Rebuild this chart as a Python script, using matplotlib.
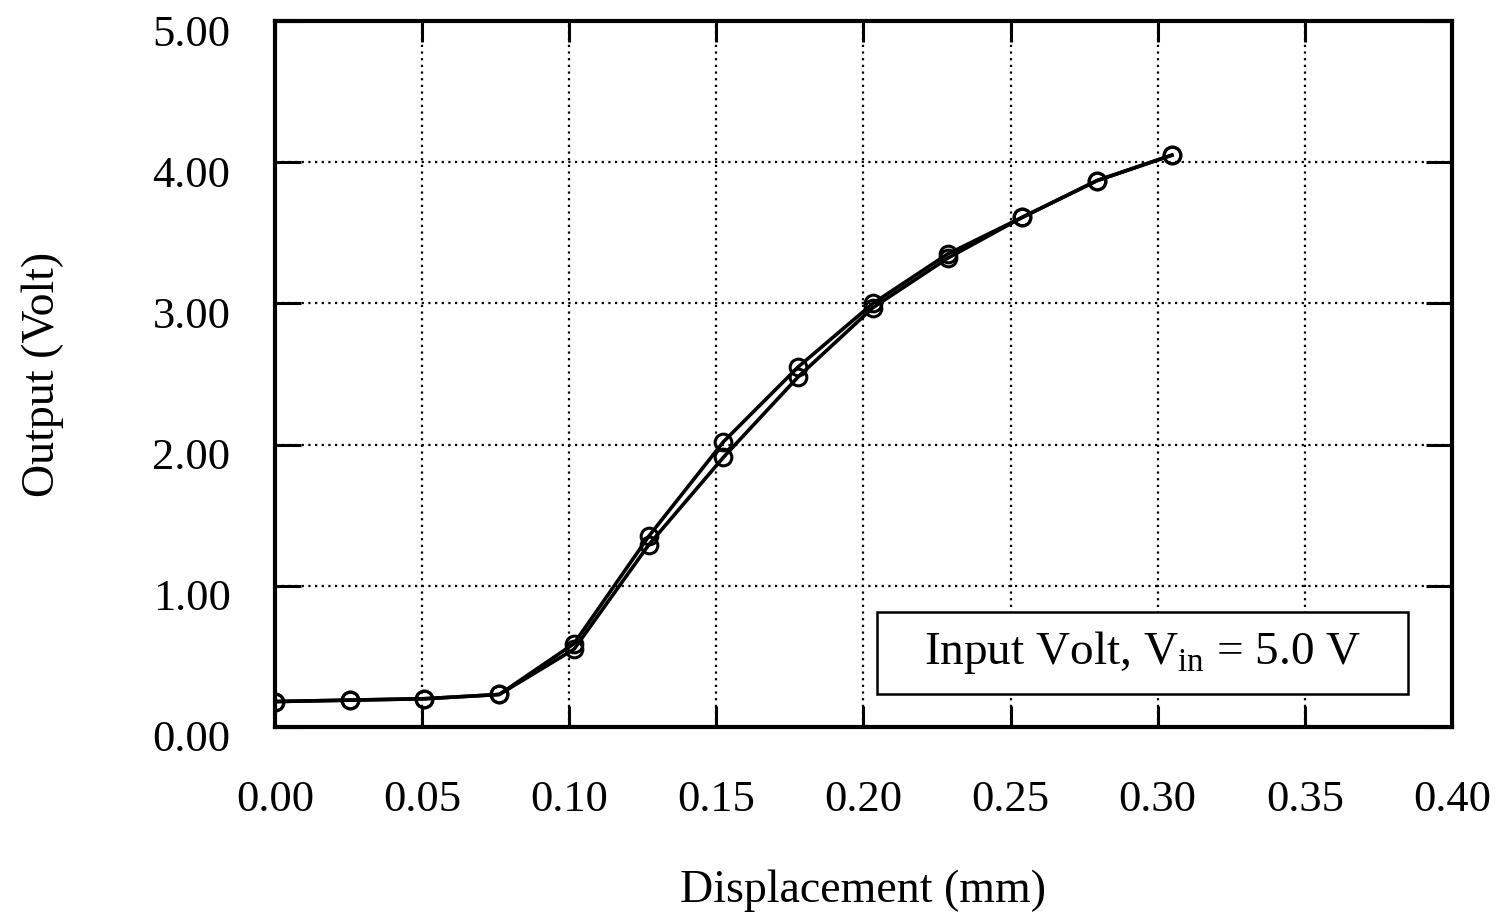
import numpy as np
import matplotlib.pyplot as plt
from matplotlib.patches import Rectangle
from matplotlib.transforms import ScaledTranslation

plt.rcParams['font.family'] = 'Liberation Serif'
plt.rcParams['mathtext.fontset'] = 'custom'
plt.rcParams['mathtext.rm'] = 'Liberation Serif'

# displacement in mm (steps of 0.001 inch)
desplazamiento = [0.0, 0.0254, 0.0508, 0.0762, 0.1016, 0.1270, 0.1524,
                  0.1778, 0.2032, 0.2286, 0.2540, 0.2794, 0.3048]
# output volts, two runs
salida_1 = [0.18, 0.19, 0.20, 0.23, 0.59, 1.35, 2.02, 2.55, 3.00, 3.35, 3.61, 3.87, 4.05]
salida_2 = [0.18, 0.19, 0.20, 0.23, 0.55, 1.29, 1.91, 2.48, 2.97, 3.32, 3.61, 3.87, 4.05]

xticks = [0.00, 0.05, 0.10, 0.15, 0.20, 0.25, 0.30, 0.35, 0.40]
yticks = [0.00, 1.00, 2.00, 3.00, 4.00, 5.00]

fig = plt.figure(figsize=(15.02, 9.18), dpi=100)
ax = fig.add_axes([0.1831, 0.2081, 0.7836, 0.7690])

for s in (salida_1, salida_2):
    ax.plot(desplazamiento, s, color='black', linewidth=2.6, marker='o',
            markersize=12, markerfacecolor='none', markeredgewidth=2.2, zorder=3)

ax.set_xlim(0, 0.40)
ax.set_ylim(0, 5.0)
ax.set_xticks(xticks)
ax.set_yticks(yticks)
ax.set_xticklabels([f'{v:.2f}' for v in xticks])
ax.set_yticklabels([f'{v:.2f}' for v in yticks])
ax.grid(True, color='black', linestyle=(0, (1, 2)), linewidth=1.6)

ax.tick_params(axis='both', direction='in', top=True, right=True,
               width=2.2, labelsize=32)
ax.tick_params(axis='x', length=15, pad=38)
ax.tick_params(axis='y', length=19, pad=32)
for sp in ax.spines.values():
    sp.set_linewidth(3)

# las etiquetas del eje y quedan un poco por debajo de cada linea
desfase = ScaledTranslation(0, -9 / 100, fig.dpi_scale_trans)
for lab in ax.get_yticklabels():
    lab.set_transform(lab.get_transform() + desfase)

ax.set_xlabel('Displacement (mm)', fontsize=33, labelpad=36)
ax.set_ylabel('Output (Volt)', fontsize=33, labelpad=64)

# caja con la tension de entrada
ax.add_patch(Rectangle((0.5115, 0.0467), 0.451, 0.116, transform=ax.transAxes,
                       facecolor='white', edgecolor='black', linewidth=1.8, zorder=4))
ax.text(0.737, 0.105, r'Input Volt, V$_{\mathrm{in}}$ = 5.0 V', transform=ax.transAxes,
        fontsize=34, ha='center', va='center', zorder=5)

fig.savefig('out.png', dpi=100)
